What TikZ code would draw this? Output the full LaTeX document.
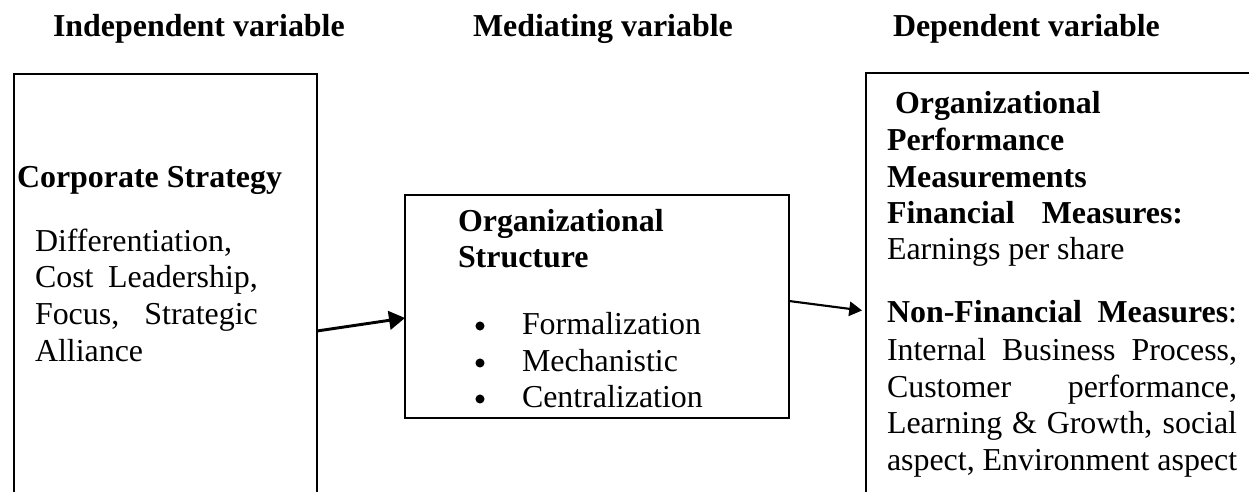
\documentclass[tikz,border=0pt]{standalone}
\usepackage{fontspec}
\setmainfont{Liberation Serif}
\usetikzlibrary{arrows.meta,fit}
\begin{document}
\begin{tikzpicture}[x=0.3759pt,y=-0.3759pt,
  every node/.style={inner sep=0pt,outer sep=0pt,font=\fontsize{12}{13.8}\selectfont},
  txt/.style={anchor=base west},
  bf/.style={anchor=base west,font=\fontsize{12}{13.8}\selectfont\bfseries},
  bul/.style={circle,fill=black,minimum size=3.4pt},
  box/.style={draw,line width=0.75pt,inner sep=0pt},
  arrA/.style={line width=1.1pt,-{Triangle[length=6pt,width=7pt]}},
  arrB/.style={line width=0.8pt,-{Triangle[length=4.8pt,width=5.4pt]}}]
\useasboundingbox (0,0) rectangle (1249,492);
\clip (0,0) rectangle (1249,492);
% headers
\node[bf] (h1) at (53,37) {Independent variable};
\node[bf] (h2) at (473,37) {Mediating variable};
\node[bf] (h3) at (893,37) {Dependent variable};
% boxes
\coordinate (l1) at (14,74);  \coordinate (l2) at (317,620);
\node[box,fit=(l1)(l2)] (L) {};
\coordinate (m1) at (405,195); \coordinate (m2) at (789,418);
\node[box,fit=(m1)(m2)] (M) {};
\coordinate (r1) at (866,73);  \coordinate (r2) at (1420,620);
\node[box,fit=(r1)(r2)] (R) {};
% left box text
\node[bf] (cs) at (17,188) {Corporate Strategy};
\node[txt] (d1) at (35,252) {Differentiation,};
\node[txt] (d2) at (35,288) {\makebox[83.8pt][s]{Cost Leadership,}};
\node[txt] (d3) at (35,325) {\makebox[83.8pt][s]{Focus, Strategic}};
\node[txt] (d4) at (35,362) {Alliance};
% middle box text
\node[bf] (o1) at (458,232) {Organizational};
\node[bf] (o2) at (458,268) {Structure};
\node[bul] (b1) at (480,326) {};
\node[bul] (b2) at (480,363) {};
\node[bul] (b3) at (480,399) {};
\node[txt] (f1) at (522,335) {Formalization};
\node[txt] (f2) at (522,372) {Mechanistic};
\node[txt] (f3) at (522,408) {Centralization};
% right box text
\node[bf] (p1) at (895,114) {Organizational};
\node[bf] (p2) at (887,151) {Performance};
\node[bf] (p3) at (887,188) {Measurements};
\node[bf] (p4) at (887,224) {\makebox[111.3pt][s]{Financial Measures:}};
\node[txt] (p5) at (887,260) {Earnings per share};
\node[txt] (p6) at (887,323) {\makebox[131.6pt][s]{\textbf{Non-Financial Measures}:}};
\node[txt] (p7) at (887,361) {\makebox[131.6pt][s]{Internal Business Process,}};
\node[txt] (p8) at (887,398) {\makebox[131.6pt][s]{Customer performance,}};
\node[txt] (p9) at (887,434) {\makebox[131.6pt][s]{Learning \& Growth, social}};
\node[txt] (p10) at (887,471) {aspect, Environment aspect};
% arrows
\coordinate (s1) at (313,331); \coordinate (t1) at (405,318);
\draw[arrA] (L.east |- s1) -- (M.west |- t1);
\coordinate (s2) at (789,301); \coordinate (t2) at (866,311);
\draw[arrB,shorten >=1.5pt] (M.east |- s2) -- (R.west |- t2);
\end{tikzpicture}
\end{document}
